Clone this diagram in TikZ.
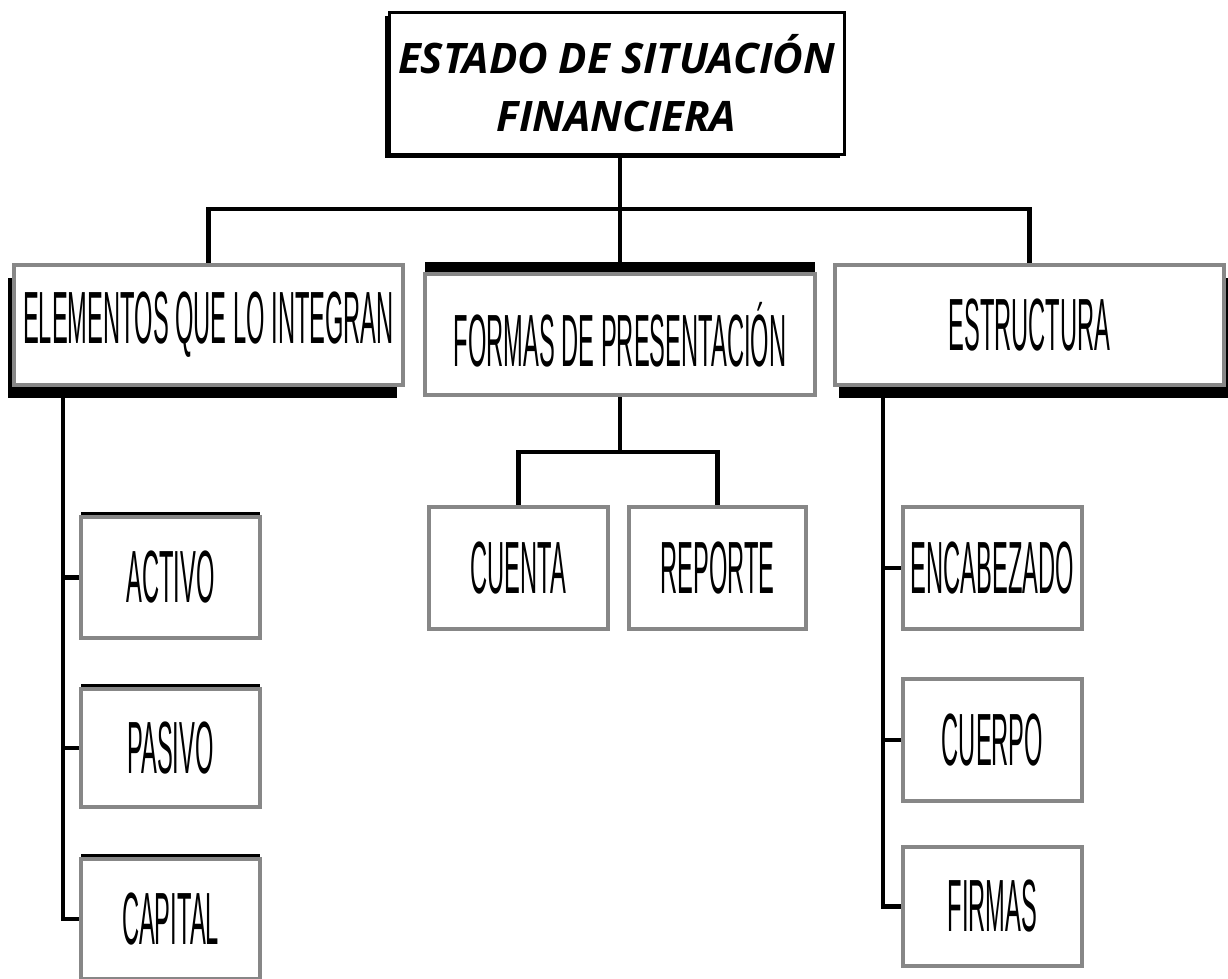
\documentclass[tikz,border=0pt]{standalone}
\usepackage{fontspec}
\usetikzlibrary{shadows}
\newfontfamily\narrowfont[FakeStretch=0.32]{Liberation Sans}
\newfontfamily\titlefont{Open Sans}
\definecolor{boxgray}{HTML}{878787}
\begin{document}
\begin{tikzpicture}[x=1pt,y=-1pt,
  conn/.style={line width=4.4pt,black},
  gbox/.style={draw=boxgray,line width=4.5pt,fill=white,inner sep=0pt,
    font=\narrowfont\fontsize{74}{74}\selectfont},
  sh/.style 2 args={drop shadow={shadow xshift=#1,shadow yshift=#2,fill=black,opacity=1}},
  titlebox/.style={draw=black,line width=3pt,fill=white,inner sep=0pt,align=center,
    font=\titlefont\bfseries\itshape\fontsize{42}{58}\selectfont}]
\useasboundingbox (0,0) rectangle (1228,978);

% top
\node[titlebox,sh={-4pt}{-4pt},minimum width=455pt,minimum height=142pt] (top) at (616.5,83)
  {ESTADO DE SITUACIÓN\\FINANCIERA};

% level 2
\node[gbox,sh={-6pt}{-13pt},minimum width=389pt,minimum height=120pt] (elem) at (208.5,325) {ELEMENTOS QUE LO INTEGRAN};
\node[gbox,sh={0pt}{12pt},minimum width=390pt,minimum height=121pt] (formas) at (620,334.5) {FORMAS DE PRESENTACIÓN};
\node[gbox,sh={4pt}{-13pt},minimum width=389pt,minimum height=120pt] (estr) at (1029.5,325) {ESTRUCTURA};

% left children
\node[gbox,sh={0pt}{5pt},minimum width=179pt,minimum height=121pt] (activo) at (170.5,577.5) {ACTIVO};
\node[gbox,sh={0pt}{5pt},minimum width=179pt,minimum height=118pt] (pasivo) at (170.5,748) {PASIVO};
\node[gbox,sh={0pt}{5pt},minimum width=179pt,minimum height=120pt] (capital) at (170.5,919) {CAPITAL};

% middle children
\node[gbox,sh={0pt}{-2pt},minimum width=179pt,minimum height=122pt] (cuenta) at (518.5,568) {CUENTA};
\node[gbox,sh={0pt}{-2pt},minimum width=177pt,minimum height=122pt] (reporte) at (717.5,568) {REPORTE};

% right children
\node[gbox,sh={0pt}{-2pt},minimum width=179pt,minimum height=122pt] (encab) at (992.5,568) {ENCABEZADO};
\node[gbox,sh={0pt}{-2pt},minimum width=179pt,minimum height=122pt] (cuerpo) at (992.5,740) {CUERPO};
\node[gbox,sh={0pt}{-2pt},minimum width=179pt,minimum height=119pt] (firmas) at (992.5,906.5) {FIRMAS};

% connectors
\coordinate (bus) at (620,209);
\coordinate (busm) at (620,452);
\coordinate (spineL) at (63,398);
\coordinate (spineR) at (883,398);

\draw[conn] (bus |- top.south) -- (bus);
\draw[conn] (elem.north) |- (bus) -| (estr.north);
\draw[conn] (bus) -- (formas.north);

\draw[conn] (formas.south) -- (busm);
\draw[conn] (cuenta.north) |- (busm) -| (reporte.north);

\draw[conn] (spineL) |- (capital.west);
\draw[conn] (activo.west) -- (activo.west -| spineL);
\draw[conn] (pasivo.west) -- (pasivo.west -| spineL);

\draw[conn] (spineR) |- (firmas.west);
\draw[conn] (encab.west) -- (encab.west -| spineR);
\draw[conn] (cuerpo.west) -- (cuerpo.west -| spineR);
\end{tikzpicture}
\end{document}
